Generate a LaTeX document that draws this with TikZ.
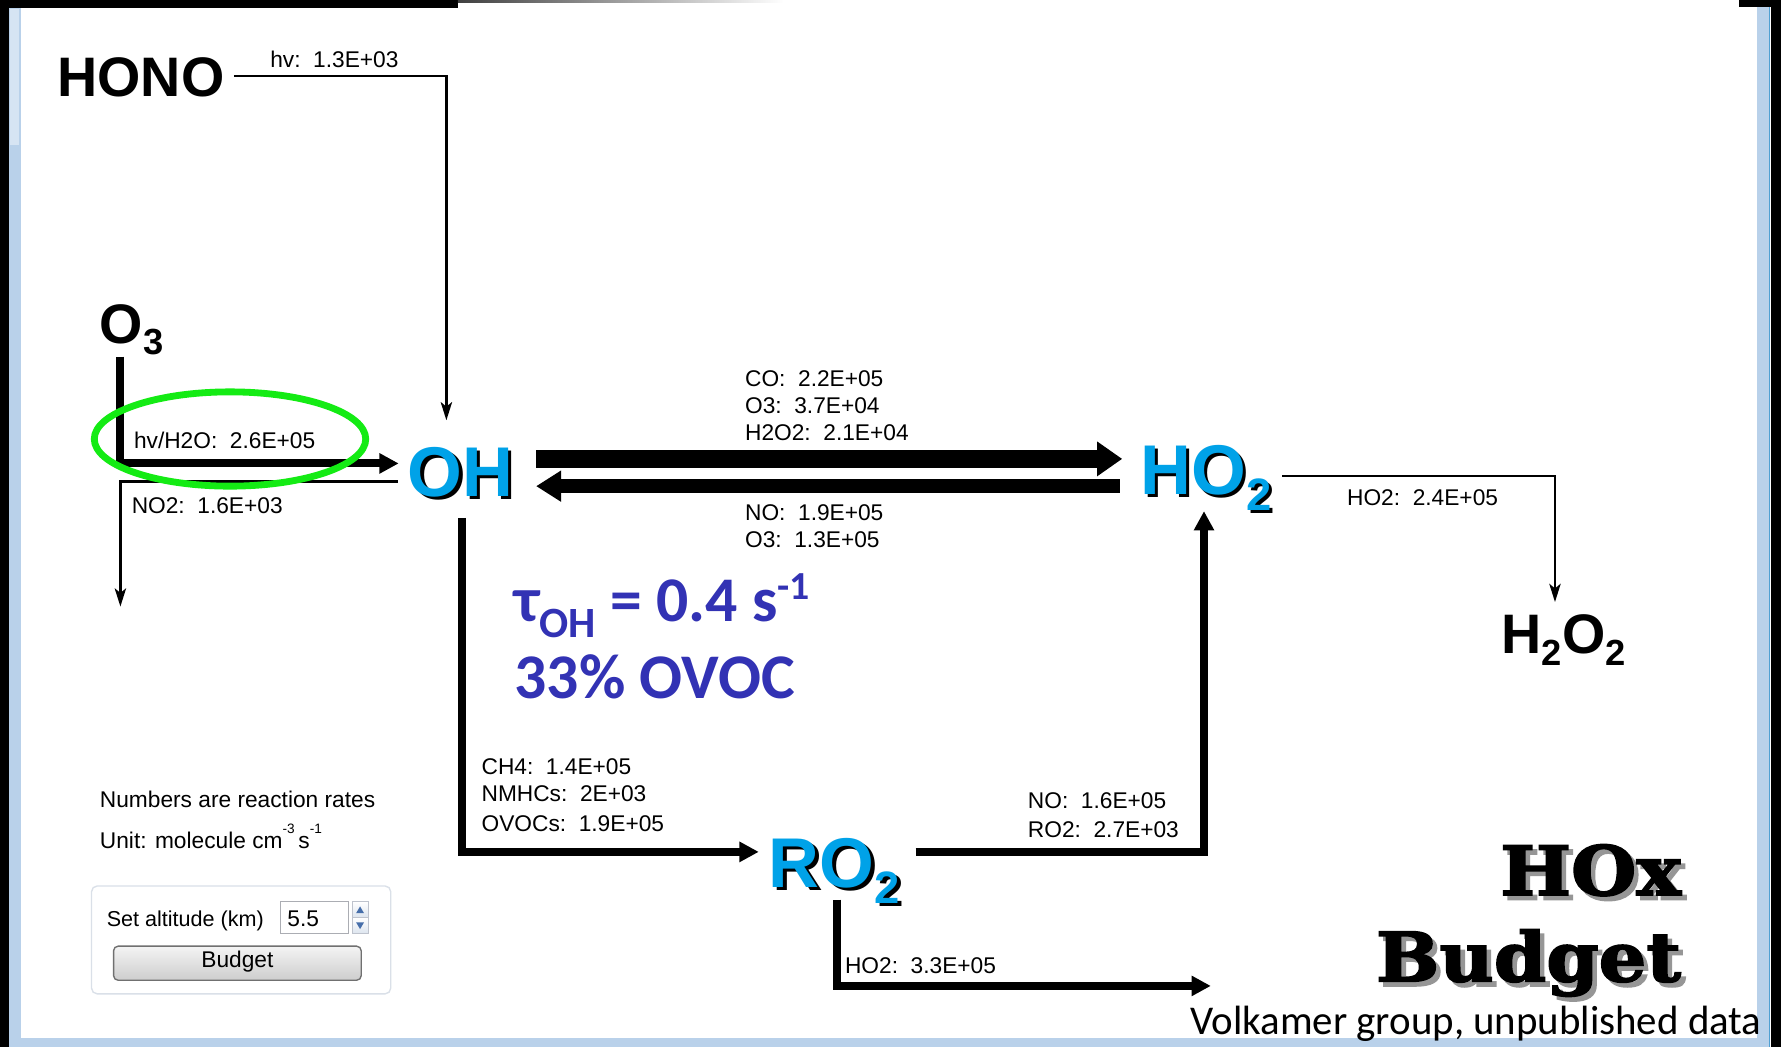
\documentclass[tikz,border=0pt]{standalone}
\usepackage{fontspec}
\setmainfont{Liberation Sans}
\newfontfamily\calfont{Carlito}
\newfontfamily\slabfont[FakeStretch=1.1,FakeBold=2.5]{DejaVu Serif}
\usetikzlibrary{arrows.meta,calc}
\definecolor{spblue}{RGB}{0,162,232}
\definecolor{taublue}{RGB}{50,50,180}
\definecolor{frameblue}{RGB}{185,209,234}
\definecolor{framelight}{RGB}{214,228,243}
\definecolor{frameline}{RGB}{80,160,210}
\definecolor{ringgreen}{RGB}{20,235,20}
\definecolor{hoxshadow}{RGB}{150,150,150}
\definecolor{panelgrey}{RGB}{218,224,232}
\definecolor{boxgrey}{RGB}{171,173,179}
\definecolor{btntop}{RGB}{244,244,244}
\definecolor{btnbot}{RGB}{205,205,205}
\definecolor{btnborder}{RGB}{112,112,112}
\definecolor{spinblue}{RGB}{70,110,170}
\definecolor{spinbot}{RGB}{220,228,238}
\definecolor{spinborder}{RGB}{190,195,205}
\newcommand\spsub[1]{\raisebox{-14pt}{\fontsize{40}{40}\selectfont #1}}
\newcommand\smsub[1]{\raisebox{-10.5pt}{\fontsize{32}{32}\selectfont #1}}
\newcommand\shadowed[1]{\makebox[0pt][l]{\hspace*{3pt}\raisebox{-3pt}{\color{black}#1}}{\color{spblue}#1}}
\newcommand\greyshadowed[1]{\makebox[0pt][l]{\hspace*{4pt}\raisebox{-4pt}{\color{hoxshadow}#1}}{\color{black}#1}}
\begin{document}
\begin{tikzpicture}[x=1pt,y=-1pt,
  every node/.style={inner sep=0pt, outer sep=0pt},
  lbl/.style={anchor=base west, font=\fontsize{20}{24}\selectfont},
  bigsp/.style={anchor=base west, font=\fontsize{62}{62}\selectfont\bfseries, text height=44pt, text depth=0pt},
  smallsp/.style={anchor=base west, font=\fontsize{49}{49}\selectfont\bfseries, text height=35pt, text depth=0pt},
  thinarr/.style={line width=2pt, -{Stealth[length=16pt,width=10pt,inset=4pt]}},
  thickarr/.style={line width=7pt, -{Triangle[length=17pt,width=17pt]}},
  bigarr/.style={line width=16pt, -{Triangle[length=22pt,width=29pt]}},
  bigarrb/.style={line width=12pt, -{Triangle[length=22pt,width=26pt]}},
  hoxtxt/.style={anchor=base east, font=\slabfont\bfseries\fontsize{60}{60}\selectfont, text depth=0pt},
  taustyle/.style={anchor=base west, text=taublue, font=\calfont\bfseries\fontsize{56}{56}\selectfont},
  spinbox/.style={top color=white, bottom color=spinbot, draw=spinborder, line width=0.8pt}
]
% canvas and frame
\fill[white] (0,0) rectangle (1568,922);
\useasboundingbox (0,0) rectangle (1568,922);
\fill[black] (0,0) rectangle (7.5,922);
\fill[frameblue] (7.5,7) rectangle (18.5,922);
\fill[framelight] (9,8) rectangle (17,128);
\fill[black] (0,0) rectangle (403,7);
\shade[left color=black!75, right color=white] (403,0) rectangle (690,2.5);
\fill[black] (1531,0) rectangle (1568,6);
\fill[frameblue] (1547,6) rectangle (1557,922);
\fill[frameline] (1557,6) rectangle (1558.3,922);
\fill[black] (1559.5,0) rectangle (1568,922);
\fill[frameblue] (7.5,914) rectangle (1557,922);

% species
\node[smallsp] (HONO) at (50.5,85) {HONO};
\node[smallsp] (O3) at (88,302) {O\smsub{3}};
\node[smallsp] (H2O2) at (1322,575) {H\smsub{2}O\smsub{2}};
\node[bigsp] (OH) at (359,437) {\shadowed{OH}};
\node[bigsp] (HO2) at (1004,435) {\shadowed{HO\spsub{2}}};
\node[bigsp] (RO2) at (677,781) {\shadowed{RO\spsub{2}}};

% rate labels
\node[lbl] (lhono) at (238,59) {hv:\ \ 1.3E+03};
\node[lbl] (lo3) at (118,395) {hv/H2O:\ \ 2.6E+05};
\node[lbl] (lno2) at (116,452) {NO2:\ \ 1.6E+03};
\node[lbl] (lco) at (656,340.5) {CO:\ \ 2.2E+05};
\node[lbl] (lo3b) at (656,364) {O3:\ \ 3.7E+04};
\node[lbl] (lh2o2) at (656,388) {H2O2:\ \ 2.1E+04};
\node[lbl] (lno) at (656,458) {NO:\ \ 1.9E+05};
\node[lbl] (lo3c) at (656,482) {O3:\ \ 1.3E+05};
\node[lbl] (lho2a) at (1186,445) {HO2:\ \ 2.4E+05};
\node[lbl] (lch4) at (424,682) {CH4:\ \ 1.4E+05};
\node[lbl] (lnmhc) at (424,706) {NMHCs:\ \ 2E+03};
\node[lbl] (lovoc) at (424,732) {OVOCs:\ \ 1.9E+05};
\node[lbl] (lnob) at (905,712) {NO:\ \ 1.6E+05};
\node[lbl] (lro2) at (905,737) {RO2:\ \ 2.7E+03};
\node[lbl] (lho2b) at (744,857) {HO2:\ \ 3.3E+05};

% connectors
\coordinate (no2end) at (106,534);
\coordinate (sinkend) at (1066,868);
\draw[thinarr] ($(HONO.base west)+(155.5,-18)$) -| ($(OH.base west)+(34,-67)$);
\draw[thickarr] ($(O3.base west)+(18,12)$) |- ($(OH.base west)+(-8,-29)$);
\draw[thinarr] ($(OH.base west)+(-9,-13)$) -| (no2end);
\draw[bigarr] ($(OH.base west)+(113,-33)$) -- ($(HO2.base west)+(-16,-31)$);
\draw[bigarrb] ($(HO2.base west)+(-18,-7)$) -- ($(OH.base west)+(113,-9)$);
\draw[thickarr] ($(OH.base west)+(48,19)$) |- ($(RO2.base west)+(-9,-31)$);
\draw[thickarr] ($(RO2.base west)+(129,-31)$) -| ($(HO2.base west)+(56,15)$);
\draw[thickarr] ($(RO2.base west)+(59.5,11)$) |- (sinkend);
\draw[thinarr] ($(HO2.base west)+(125,-16)$) -| ($(H2O2.base west)+(47,-45)$);

% lifetime text
\node[taustyle] (tau) at (453,547) {τ\raisebox{-14pt}{\fontsize{38}{38}\selectfont OH} = 0.4 s\raisebox{19pt}{\fontsize{35}{35}\selectfont -1}};
\node[taustyle] (ovoc) at (453,615) {33\% OVOC};

% notes and widget
\node[lbl] (note1) at (88,711) {Numbers are reaction rates};
\node[lbl] (note2) at (88,747) {Unit: molecule cm\raisebox{13pt}{\fontsize{12}{12}\selectfont -3}\,s\raisebox{13pt}{\fontsize{12}{12}\selectfont -1}};
\draw[panelgrey, line width=1.2pt, rounded corners=5pt] (80.6,780) rectangle (344,875);
\node[anchor=base west, font=\fontsize{19}{22}\selectfont] (altlbl) at (94,816) {Set altitude (km)};
\draw[boxgrey, fill=white, line width=1pt] (247,794) rectangle (307,822);
\node[lbl] (altval) at (253,816) {5.5};
\shadedraw[spinbox] (310,794) rectangle (324,808);
\shadedraw[spinbox] (310,808) rectangle (324,822);
\fill[spinblue] (313.5,804) -- (320.5,804) -- (317,798) -- cycle;
\fill[spinblue] (313.5,812) -- (320.5,812) -- (317,818) -- cycle;
\shadedraw[top color=btntop, bottom color=btnbot, draw=btnborder, line width=1.2pt, rounded corners=4pt] (100,833) rectangle (318,863);
\node[anchor=base, font=\fontsize{20}{24}\selectfont] (budgetbtn) at (209,852) {Budget};

% title
\node[hoxtxt] (HOx) at (1480,788) {\greyshadowed{HOx}};
\node[hoxtxt] (Budget) at (1480,864) {\greyshadowed{Budget}};
\node[anchor=base east, font=\calfont\fontsize{36}{36}\selectfont] (credit) at (1551,911) {Volkamer group, unpublished data};

% highlight ring
\draw[ringgreen, line width=6pt] (202.5,386.5) ellipse [x radius=119.5pt, y radius=41.5pt];
\end{tikzpicture}
\end{document}
